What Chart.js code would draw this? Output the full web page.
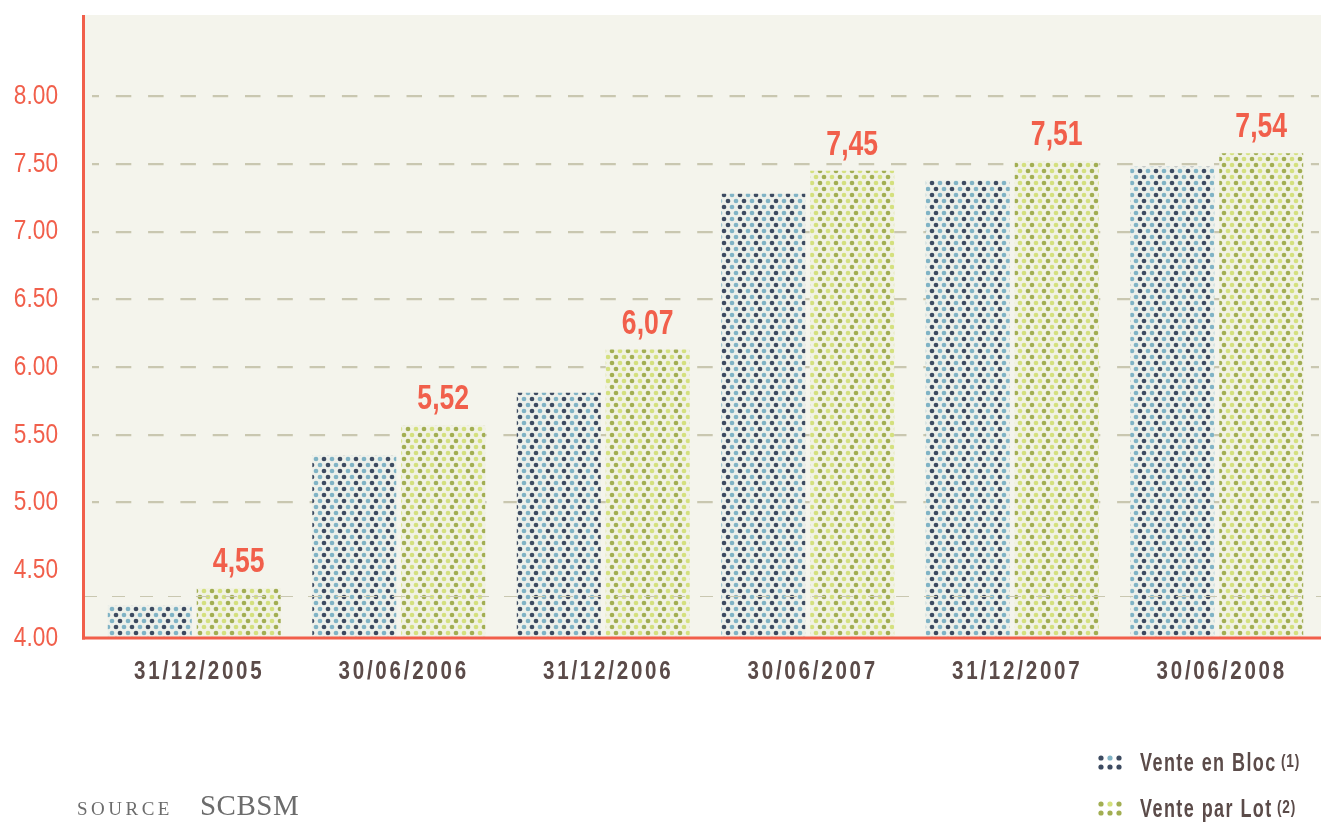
<!DOCTYPE html>
<html>
<head>
<meta charset="utf-8">
<script src="https://cdn.jsdelivr.net/npm/chart.js@4.4.1/dist/chart.umd.min.js"></script>
<style>
html,body{margin:0;padding:0;background:#ffffff;}
#wrap{position:relative;width:1321px;height:822px;overflow:hidden;}
#c{position:absolute;left:0;top:0;}
.leg{position:absolute;left:1097px;height:28px;display:flex;align-items:center;white-space:nowrap;}
.leg canvas{margin-right:16px;flex:none;}
.leg .txt{display:inline-block;transform:scaleX(0.72);transform-origin:left center;
  font-family:'Liberation Sans',Arial,sans-serif;font-weight:bold;font-size:25px;color:#5b4b49;letter-spacing:2px;}
.leg sup{font-size:19px;letter-spacing:1px;margin-left:6px;position:relative;top:-4px;vertical-align:baseline;}
#source{position:absolute;left:77px;top:789px;display:flex;align-items:baseline;
  font-family:'Liberation Serif','DejaVu Serif',serif;color:#6c6c6c;white-space:nowrap;}
#source .s1{font-size:19px;letter-spacing:3.5px;}
#source .s2{font-size:29px;margin-left:27px;letter-spacing:0.5px;}
</style>
</head>
<body>
<div id="wrap">
  <canvas id="c" width="1321" height="822"></canvas>
  <div id="source"><span class="s1">SOURCE</span><span class="s2">SCBSM</span></div>
</div>
<script>
// ---- data ----
const categories = ['31/12/2005','30/06/2006','31/12/2006','30/06/2007','31/12/2007','30/06/2008'];
const seriesNames = ['Vente en Bloc','Vente par Lot'];
const seriesNotes = ['(1)','(2)'];
const venteEnBloc = [4.24, 5.35, 5.81, 7.28, 7.38, 7.48];
const venteParLot = [4.37, 5.57, 6.13, 7.45, 7.52, 7.58];
const parLotLabels = ['4,55','5,52','6,07','7,45','7,51','7,54'];
const yTicks = [4.0, 4.5, 5.0, 5.5, 6.0, 6.5, 7.0, 7.5, 8.0];
const yTickLabels = ['4.00','4.50','5.00','5.50','6.00','6.50','7.00','7.50','8.00'];
const hiddenGridTicks = [4.0, 4.5];
const yMin = 4.0, yMax = 8.6;
const extraRefLine = 4.31;

// ---- style ----
const RED = '#f15f4b';
const TEXT = '#5b4b49';
const CREAM = '#f4f4ec';
const GRID = '#c9c7b0';
const SANS = "'Liberation Sans',Arial,sans-serif";
const palettes = [
  {dark:'#3d4b61', light:'#80b3c5', bg:'#edf0ea'},
  {dark:'#a2ae52', light:'#d4e07e', bg:'#f1f2e4'}
];

function makePattern(p){
  const t = document.createElement('canvas');
  t.width = 16; t.height = 12;
  const g = t.getContext('2d');
  g.fillStyle = p.bg; g.fillRect(0,0,16,12);
  const dot = (x,y,c)=>{g.fillStyle=c;g.beginPath();g.arc(x,y,2.35,0,Math.PI*2);g.fill();};
  dot(4,3,p.dark); dot(12,3,p.light);
  dot(0,9,p.light); dot(16,9,p.light); dot(8,9,p.dark);
  return g.createPattern(t,'repeat');
}

function drawSwatch(cv, p){
  const g = cv.getContext('2d');
  const dot = (x,y,c)=>{g.fillStyle=c;g.beginPath();g.arc(x,y,2.6,0,Math.PI*2);g.fill();};
  dot(4,4,p.dark); dot(13,4,p.light); dot(22,4,p.dark);
  dot(4,13,p.dark); dot(13,13,p.dark); dot(22,13,p.dark);
}

// condensed text: horizontally squeeze every fillText made inside fn
function condensed(ctx, sx, spacing, dx, fn){
  ctx.save();
  ctx.letterSpacing = spacing;
  ctx.fillText = function(t, x, y){
    CanvasRenderingContext2D.prototype.save.call(this);
    this.translate(x + dx, y); this.scale(sx, 1);
    CanvasRenderingContext2D.prototype.fillText.call(this, t, 0, 0);
    CanvasRenderingContext2D.prototype.restore.call(this);
  };
  try { fn(); } finally { delete ctx.fillText; ctx.restore(); }
}

// ---- legend (HTML) ----
const wrap = document.getElementById('wrap');
seriesNames.forEach((name,i)=>{
  const d = document.createElement('div');
  d.className = 'leg';
  d.style.top = (748 + i*46) + 'px';
  const cv = document.createElement('canvas');
  cv.width = 27; cv.height = 17;
  drawSwatch(cv, palettes[i]);
  d.appendChild(cv);
  const s = document.createElement('span');
  s.className = 'txt';
  s.textContent = name;
  const sup = document.createElement('sup');
  sup.textContent = seriesNotes[i];
  s.appendChild(sup);
  d.appendChild(s);
  wrap.appendChild(d);
});

// ---- plugins ----
const frame = {
  id:'frame',
  beforeDraw(chart){
    const {ctx, chartArea:a} = chart;
    ctx.save();
    ctx.fillStyle = CREAM;
    ctx.fillRect(83, a.top, chart.width - 83, a.bottom - a.top);
    ctx.restore();
  },
  afterLayout(chart){
    const setups = {x:[0.79,'3.5px',5], y:[0.81,'0px',0]};
    Object.keys(setups).forEach(id=>{
      const sc = chart.scales[id];
      if (sc && !sc._cond){
        const orig = sc.drawLabels;
        const [sx, sp, dx] = setups[id];
        sc.drawLabels = function(area){ condensed(this.ctx, sx, sp, dx, ()=>orig.call(this, area)); };
        sc._cond = true;
      }
    });
  },
  afterDatasetsDraw(chart){
    const {ctx, scales:{y}} = chart;
    const py = Math.round(y.getPixelForValue(extraRefLine)) + 0.5;
    ctx.save();
    ctx.strokeStyle = GRID; ctx.lineWidth = 1.2;
    ctx.setLineDash([13,15]);
    ctx.beginPath(); ctx.moveTo(84, py); ctx.lineTo(chart.width, py); ctx.stroke();
    ctx.restore();
  },
  afterDraw(chart){
    const {ctx, chartArea:a, scales:{y}} = chart;
    const meta = chart.getDatasetMeta(1);
    ctx.save();
    ctx.fillStyle = RED;
    ctx.font = "bold 35px " + SANS;
    ctx.textAlign = 'center';
    ctx.textBaseline = 'alphabetic';
    condensed(ctx, 0.76, '0px', 0, ()=>{
      meta.data.forEach((bar,i)=>{ ctx.fillText(parLotLabels[i], bar.x, bar.y - 16); });
    });
    const base = y.getPixelForValue(yMin);
    ctx.strokeStyle = RED; ctx.lineWidth = 3;
    ctx.beginPath(); ctx.moveTo(83.5, a.top); ctx.lineTo(83.5, base + 1.5); ctx.stroke();
    ctx.beginPath(); ctx.moveTo(82, base); ctx.lineTo(chart.width, base); ctx.stroke();
    ctx.restore();
  }
};

new Chart(document.getElementById('c'), {
  type:'bar',
  data:{
    labels: categories,
    datasets:[
      {label: seriesNames[0], data: venteEnBloc, backgroundColor: makePattern(palettes[0]), borderWidth:0},
      {label: seriesNames[1], data: venteParLot, backgroundColor: makePattern(palettes[1]), borderWidth:0}
    ]
  },
  options:{
    responsive:false,
    devicePixelRatio:1,
    animation:false,
    layout:{padding:{top:15, right:2, left:0, bottom:0}},
    datasets:{bar:{categoryPercentage:0.87, barPercentage:0.944}},
    plugins:{legend:{display:false}, tooltip:{enabled:false}},
    scales:{
      x:{
        grid:{display:false, drawTicks:false},
        border:{display:false},
        ticks:{color:TEXT, font:{family:SANS, size:26, weight:'bold'}, padding:18, maxRotation:0, autoSkip:false},
        afterFit(s){ s.height = 822 - 638; }
      },
      y:{
        z:1,
        min:yMin, max:yMax,
        afterBuildTicks(s){ s.ticks = yTicks.map(v=>({value:v})); },
        grid:{
          drawTicks:false,
          lineWidth:2.2,
          color:(c)=> (c.tick && hiddenGridTicks.includes(c.tick.value)) ? 'rgba(0,0,0,0)' : GRID
        },
        border:{display:false, dash:[15.5,16.8], dashOffset:8.5},
        ticks:{
          color:RED, font:{family:SANS, size:28}, padding:34,
          callback:(v)=>{ const i = yTicks.indexOf(v); return i>=0 ? yTickLabels[i] : ''; }
        },
        afterFit(s){ s.width = 92; s.paddingTop = 0; s.paddingBottom = 0; }
      }
    }
  },
  plugins:[frame]
});
</script>
</body>
</html>
